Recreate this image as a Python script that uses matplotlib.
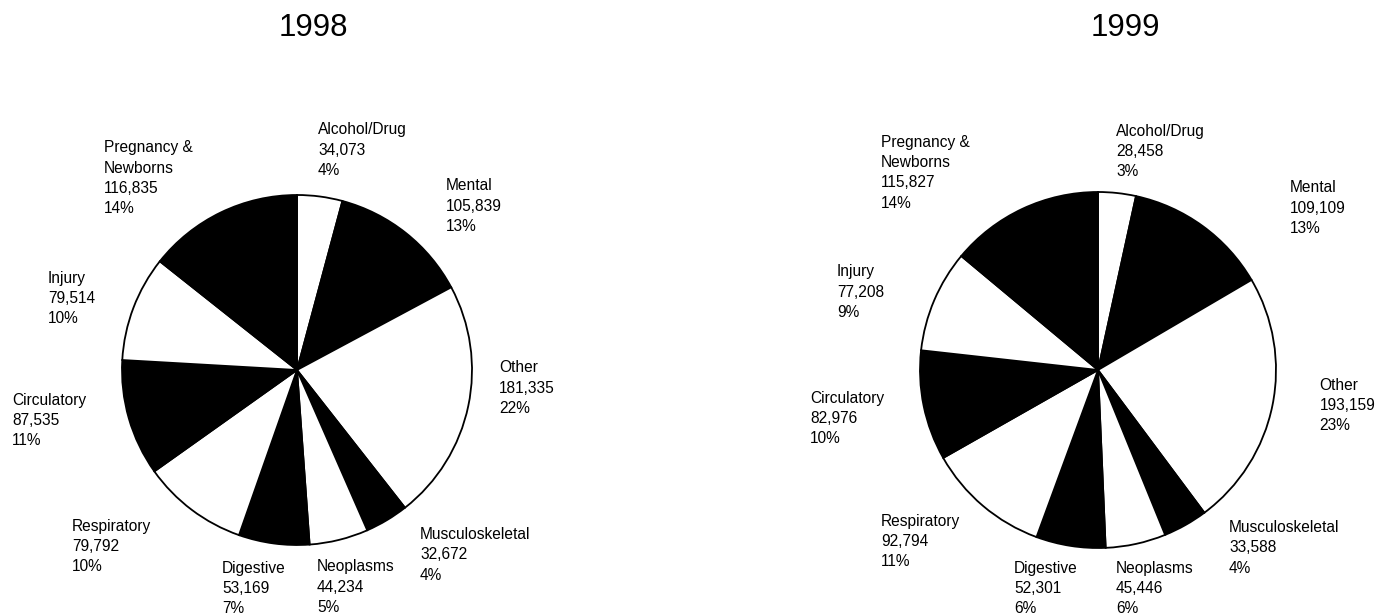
import matplotlib
matplotlib.use("Agg")
import matplotlib.pyplot as plt

plt.rcParams['font.family'] = ['Liberation Sans', 'DejaVu Sans']

# ---- data ----
categories = ["Alcohol/Drug", "Mental", "Other", "Musculoskeletal", "Neoplasms",
              "Digestive", "Respiratory", "Circulatory", "Injury", "Pregnancy &\nNewborns"]
values_1998 = [34073, 105839, 181335, 32672, 44234, 53169, 79792, 87535, 79514, 116835]
values_1999 = [28458, 109109, 193159, 33588, 45446, 52301, 92794, 82976, 77208, 115827]
pct_1998 = [4, 13, 22, 4, 5, 7, 10, 11, 10, 14]
pct_1999 = [3, 13, 23, 4, 6, 6, 11, 10, 9, 14]
years = ["1998", "1999"]

# ---- layout (label anchors: left edge / vertical centre, in pie-radius units) ----
label_pos_1998 = [(0.12, 1.257), (0.851, 0.937), (1.154, -0.103), (0.703, -1.057),
                  (0.114, -1.24), (-0.429, -1.251), (-1.286, -1.011), (-1.629, -0.291),
                  (-1.423, 0.406), (-1.103, 1.097)]
label_pos_1999 = [(0.101, 1.225), (1.079, 0.910), (1.245, -0.202), (0.736, -1.0),
                  (0.101, -1.225), (-0.472, -1.225), (-1.219, -0.966), (-1.618, -0.27),
                  (-1.466, 0.438), (-1.219, 1.107)]

W, H = 1377, 615
fig = plt.figure(figsize=(W / 100, H / 100), dpi=100)
fig.patch.set_facecolor("white")

pies = [
    dict(cx=297, cy=370, r=175, tx=313, vals=values_1998, pct=pct_1998, pos=label_pos_1998),
    dict(cx=1098, cy=370, r=178, tx=1125, vals=values_1999, pct=pct_1999, pos=label_pos_1999),
]

colors = ["white" if i % 2 == 0 else "black" for i in range(len(categories))]

for year, p in zip(years, pies):
    ax = fig.add_axes([(p["cx"] - p["r"]) / W, (H - p["cy"] - p["r"]) / H,
                       2 * p["r"] / W, 2 * p["r"] / H])
    ax.pie(p["vals"], colors=colors, startangle=90, counterclock=False, radius=1,
           wedgeprops=dict(edgecolor="black", linewidth=1.3))
    ax.set_xlim(-1.0, 1.0)
    ax.set_ylim(-1.0, 1.0)
    ax.set_aspect("auto")
    ax.axis("off")
    for cat, v, pc, (lx, ly) in zip(categories, p["vals"], p["pct"], p["pos"]):
        ax.text(lx, ly, f"{cat}\n{v:,}\n{pc}%", ha="left", va="center",
                multialignment="left", fontsize=11.2, linespacing=1.42,
                clip_on=False, color="black")
    fig.text(p["tx"] / W, 1 - 28 / H, year, ha="center", va="center", fontsize=22.5)

fig.savefig("out.png", dpi=100)
